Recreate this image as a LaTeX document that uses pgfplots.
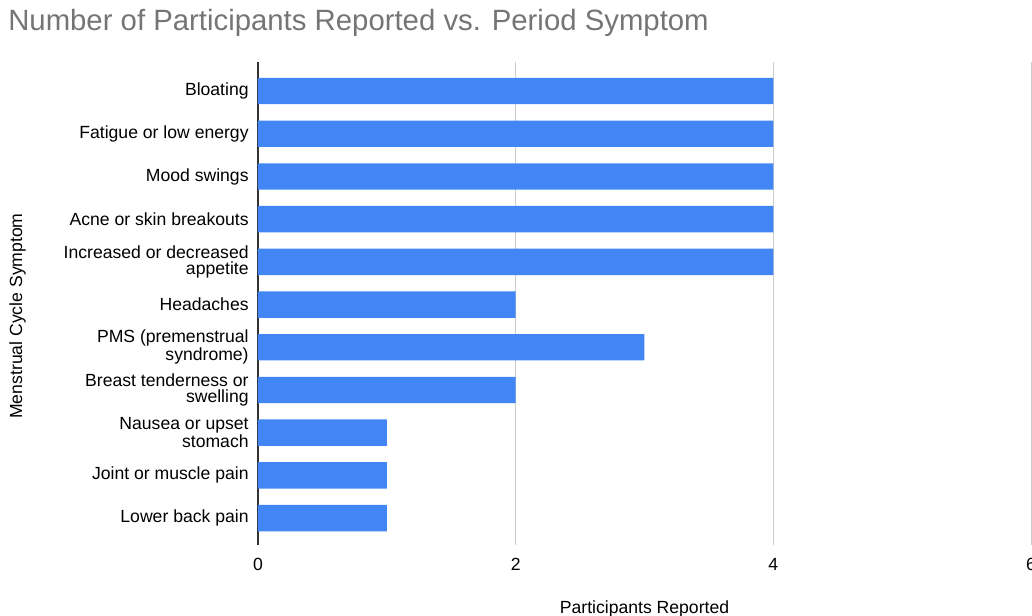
\documentclass[border=0pt]{standalone}
\usepackage{fontspec}
\setmainfont{Liberation Sans}
\usepackage{pgfplots}
\pgfplotsset{compat=1.18}
\definecolor{barblue}{HTML}{4285F4}
\definecolor{titlegray}{HTML}{757575}
\definecolor{gridgray}{HTML}{CCCCCC}
\begin{document}
\begin{tikzpicture}
\begin{axis}[
  at={(0,0)}, anchor=south west,
  scale only axis,
  width=579.75pt, height=362.25pt,
  xmin=0, xmax=6,
  ymin=-0.68, ymax=10.63,
  y dir=reverse,
  axis line style={draw=none},
  tick style={draw=none},
  xtick={2,4,6},
  extra x ticks={0},
  extra x tick style={grid style={black!80, line width=1.1pt}},
  xmajorgrids,
  grid style={gridgray, line width=0.75pt},
  /pgf/number format/assume math mode=true,
  xticklabel style={font=\fontsize{13.2}{13.2}\selectfont, anchor=base, yshift=-18.75pt},
  ytick={0,1,2,3,4,5,6,7,8,9,10},
  yticklabels={Bloating, Fatigue or low energy, Mood swings, Acne or skin breakouts, {Increased or decreased\\appetite}, Headaches, {PMS (premenstrual\\syndrome)}, {Breast tenderness or\\swelling}, {Nausea or upset\\stomach}, Joint or muscle pain, Lower back pain},
  yticklabel style={font=\fontsize{13.2}{12}\selectfont, align=right, xshift=-3.5pt},
  xlabel={Participants Reported},
  xlabel style={at={(axis description cs:0.5,0)}, anchor=base, yshift=-51pt, font=\fontsize{13.2}{13.2}\selectfont},
  ylabel={Menstrual Cycle Symptom},
  ylabel style={at={(axis description cs:0,0.5)}, anchor=center, yshift=180.4pt, xshift=-9.4pt, font=\fontsize{13.2}{13.2}\selectfont},
]
\addplot[xbar, bar width=19.8pt, fill=barblue, draw=none] coordinates {
  (4,0) (4,1) (4,2) (4,3) (4,4) (2,5) (3,6) (2,7) (1,8) (1,9) (1,10)
};
\end{axis}
\node[anchor=base west, text=titlegray, font=\fontsize{22}{22}\selectfont, inner sep=0pt] at (-187.5pt,385.5pt) {Number of Participants Reported vs. Period Symptom};
\pgfresetboundingbox
\path (-193.5pt,-52.5pt) rectangle (580.5pt,408.75pt);
\end{tikzpicture}
\end{document}
